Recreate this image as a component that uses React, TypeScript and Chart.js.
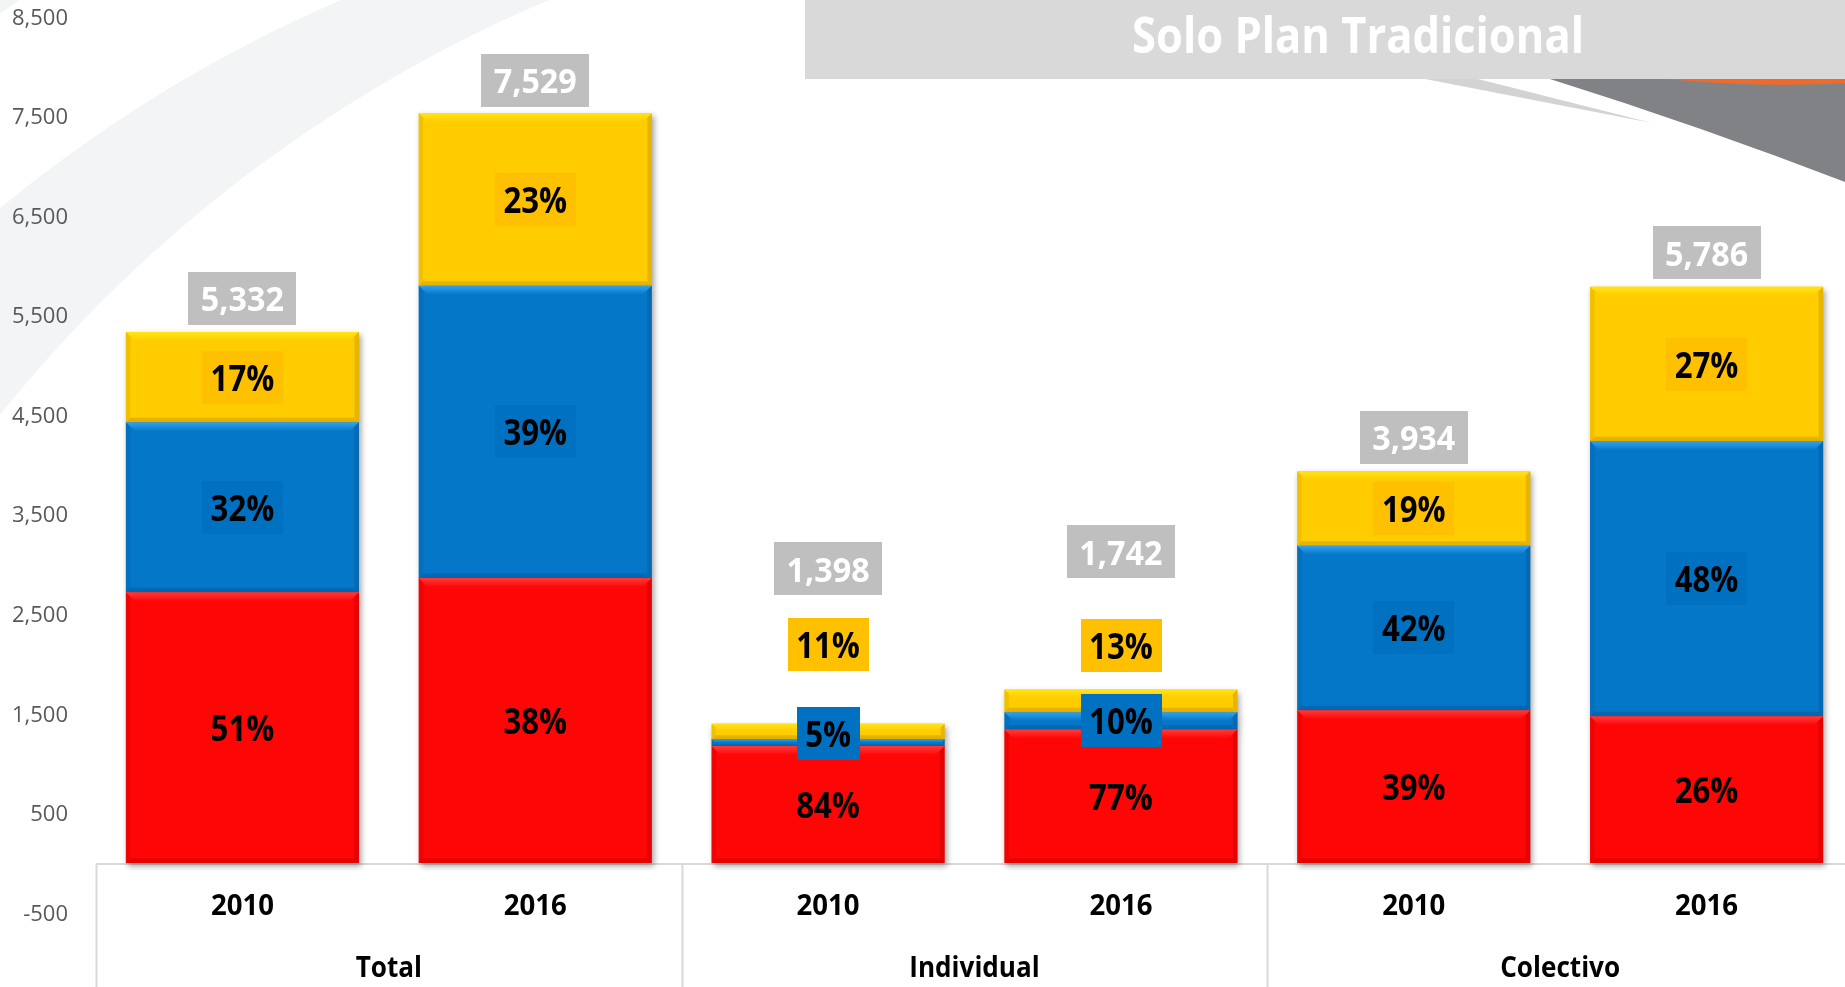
import React, { useEffect, useRef } from 'react';
import { Chart, registerables } from 'chart.js';
Chart.register(...registerables);

const years = ['2010', '2016', '2010', '2016', '2010', '2016'];
const groups = ['Total', 'Individual', 'Colectivo'];
const redValues = [2719, 2861, 1174, 1341, 1534, 1475];
const blueValues = [1706, 2936, 70, 174, 1652, 2760];
const yellowValues = [907, 1732, 154, 227, 748, 1551];
const totals = [5332, 7529, 1398, 1742, 3934, 5786];
const redPct = ['51%', '38%', '84%', '77%', '39%', '26%'];
const bluePct = ['32%', '39%', '5%', '10%', '42%', '48%'];
const yellowPct = ['17%', '23%', '11%', '13%', '19%', '27%'];
const yTicks = [-500, 500, 1500, 2500, 3500, 4500, 5500, 6500, 7500, 8500];
const title = 'Solo Plan Tradicional';

// layout-only settings (label lifts, in px)
const yellowLabelLift = [0, 0, 79, 44, 0, 0];
const blueLabelLift = [0, 0, 9, 0, 0, 0];
const totalLabelLift = [34, 33, 155, 138, 34, 34];

const FONT = "'Open Sans', sans-serif";
const CAP = 0.714;

const palette = [
  { base: '#fe0606', light: '#ff3a3a', dark: '#c00000', box: null as string | null },
  { base: '#0577c8', light: '#33a3ef', dark: '#03589a', box: '#0070c0' },
  { base: '#ffcc00', light: '#ffe414', dark: '#c99a00', box: '#ffc000' },
];

function textScaled(ctx: CanvasRenderingContext2D, text: string, x: number, baseline: number, sx: number, align: CanvasTextAlign) {
  ctx.save();
  ctx.translate(x, baseline);
  ctx.scale(sx, 1);
  ctx.textAlign = align;
  ctx.textBaseline = 'alphabetic';
  ctx.fillText(text, 0, 0);
  ctx.restore();
}

function drawBox(ctx: CanvasRenderingContext2D, text: string, cx: number, cy: number, bg: string | null, color: string, size: number, sx: number, padX: number, h: number) {
  ctx.font = `bold ${size}px ${FONT}`;
  const tw = ctx.measureText(text).width * sx;
  const w = tw + padX * 2;
  if (bg) {
    ctx.fillStyle = bg;
    ctx.fillRect(Math.round(cx - w / 2), Math.round(cy - h / 2), Math.round(w), h);
  }
  ctx.fillStyle = color;
  textScaled(ctx, text, cx, cy + 1 + (size * CAP) / 2, sx, 'center');
}

const decoPlugin = {
  id: 'deco',
  beforeDraw(chart: any) {
    const ctx: CanvasRenderingContext2D = chart.ctx;
    const W = chart.width;
    const H = chart.height;
    ctx.save();
    ctx.fillStyle = '#ffffff';
    ctx.fillRect(0, 0, W, H);
    // light swoosh on the left: inside outer circle, outside inner circle
    ctx.fillStyle = '#f3f4f6';
    ctx.save();
    ctx.beginPath();
    ctx.arc(900, 1300, 1415, 0, Math.PI * 2);
    ctx.clip();
    ctx.beginPath();
    ctx.rect(0, 0, W, H);
    ctx.arc(1100, 1300, 1412, 0, Math.PI * 2, true);
    ctx.fill('evenodd');
    ctx.restore();
    ctx.save();
    ctx.beginPath();
    ctx.rect(0, 0, 200, 200);
    ctx.clip();
    ctx.beginPath();
    ctx.rect(0, 0, 200, 200);
    ctx.arc(900, 1300, 1570, 0, Math.PI * 2, true);
    ctx.fill('evenodd');
    ctx.restore();
    // dark swoosh top right
    ctx.fillStyle = '#808285';
    ctx.beginPath();
    ctx.moveTo(1550, 79);
    ctx.quadraticCurveTo(1700, 126, W, 185);
    ctx.lineTo(W, 79);
    ctx.closePath();
    ctx.fill();
    // light gray sliver
    ctx.fillStyle = '#d3d3d5';
    ctx.beginPath();
    ctx.moveTo(1425, 79);
    ctx.lineTo(1478, 79);
    ctx.lineTo(1652, 123);
    ctx.closePath();
    ctx.fill();
    // orange strip
    ctx.fillStyle = '#f26a2a';
    ctx.beginPath();
    ctx.moveTo(1665, 79);
    ctx.quadraticCurveTo(1760, 88, W, 83);
    ctx.lineTo(W, 79);
    ctx.closePath();
    ctx.fill();
    ctx.restore();
  },
  beforeDatasetsDraw(chart: any) {
    const ctx: CanvasRenderingContext2D = chart.ctx;
    const xs = chart.scales.x;
    const ys = chart.scales.y;
    const y0 = ys.getPixelForValue(0);
    const n = years.length;
    const slot = (xs.right - xs.left) / n;
    ctx.save();
    // y tick labels
    ctx.fillStyle = '#595959';
    ctx.font = `22px ${FONT}`;
    yTicks.forEach((v) => {
      textScaled(ctx, v.toLocaleString('en-US'), 68, ys.getPixelForValue(v) + 8, 1, 'right');
    });
    // category table lines
    ctx.strokeStyle = '#d9d9d9';
    ctx.lineWidth = 2;
    ctx.beginPath();
    ctx.moveTo(xs.left, y0 + 1);
    ctx.lineTo(xs.right, y0 + 1);
    for (let g = 0; g <= groups.length; g++) {
      const x = Math.round(xs.left + g * 2 * slot) + 0.5;
      ctx.moveTo(x, y0 + 1);
      ctx.lineTo(x, chart.height);
    }
    ctx.stroke();
    // category labels
    ctx.fillStyle = '#000000';
    ctx.font = `bold 29px ${FONT}`;
    years.forEach((yr, i) => {
      textScaled(ctx, yr, xs.getPixelForValue(i), y0 + 52, 0.95, 'center');
    });
    groups.forEach((g, k) => {
      const x = (xs.getPixelForValue(2 * k) + xs.getPixelForValue(2 * k + 1)) / 2;
      textScaled(ctx, g, x, y0 + 114, 0.9, 'center');
    });
    ctx.restore();
    // shadow for bars
    ctx.save();
    ctx.shadowColor = 'rgba(0,0,0,0.38)';
    ctx.shadowBlur = 6;
    ctx.shadowOffsetX = 2;
    ctx.shadowOffsetY = 3;
  },
  afterDatasetsDraw(chart: any) {
    const ctx: CanvasRenderingContext2D = chart.ctx;
    ctx.restore();
    // bevel effect
    ctx.save();
    chart.data.datasets.forEach((ds: any, d: number) => {
      const meta = chart.getDatasetMeta(d);
      const p = palette[d];
      meta.data.forEach((el: any) => {
        const left = el.x - el.width / 2;
        const right = el.x + el.width / 2;
        const top = Math.min(el.y, el.base);
        const bot = Math.max(el.y, el.base);
        const h = bot - top;
        const b = Math.min(9, h / 2);
        const grad = ctx.createLinearGradient(0, top, 0, top + b);
        grad.addColorStop(0, p.light);
        grad.addColorStop(1, p.base);
        ctx.fillStyle = grad;
        ctx.beginPath();
        ctx.moveTo(left, top);
        ctx.lineTo(right, top);
        ctx.lineTo(right - b, top + b);
        ctx.lineTo(left + b, top + b);
        ctx.closePath();
        ctx.fill();
        ctx.globalAlpha = 0.45;
        ctx.fillStyle = p.dark;
        ctx.beginPath();
        ctx.moveTo(right, top);
        ctx.lineTo(right, bot);
        ctx.lineTo(right - b * 0.5, bot - b * 0.5);
        ctx.lineTo(right - b * 0.5, top + b * 0.5);
        ctx.closePath();
        ctx.fill();
        ctx.beginPath();
        ctx.moveTo(left, bot);
        ctx.lineTo(right, bot);
        ctx.lineTo(right - b * 0.5, bot - b * 0.5);
        ctx.lineTo(left + b * 0.5, bot - b * 0.5);
        ctx.closePath();
        ctx.fill();
        ctx.globalAlpha = 0.25;
        ctx.beginPath();
        ctx.moveTo(left, top);
        ctx.lineTo(left, bot);
        ctx.lineTo(left + b * 0.5, bot - b * 0.5);
        ctx.lineTo(left + b * 0.5, top + b * 0.5);
        ctx.closePath();
        ctx.fill();
        ctx.globalAlpha = 1;
      });
    });
    ctx.restore();

    // labels
    ctx.save();
    const pcts = [redPct, bluePct, yellowPct];
    const topMeta = chart.getDatasetMeta(2);
    chart.data.datasets.forEach((ds: any, d: number) => {
      const meta = chart.getDatasetMeta(d);
      meta.data.forEach((el: any, i: number) => {
        let cy = (el.y + el.base) / 2;
        if (d === 2 && yellowLabelLift[i] > 0) cy = el.y - yellowLabelLift[i];
        if (d === 1) cy -= blueLabelLift[i];
        drawBox(ctx, pcts[d][i], el.x, cy, palette[d].box, '#000000', 35, 0.89, 8.5, 53);
      });
    });
    topMeta.data.forEach((el: any, i: number) => {
      drawBox(ctx, totals[i].toLocaleString('en-US'), el.x, el.y - totalLabelLift[i], '#bfbfbf', '#ffffff', 34, 0.95, 12.5, 53);
    });
    ctx.restore();
  },
  afterDraw(chart: any) {
    const ctx: CanvasRenderingContext2D = chart.ctx;
    ctx.save();
    ctx.fillStyle = '#d9d9d9';
    ctx.fillRect(805, 0, chart.width - 805, 79);
    ctx.fillStyle = '#ffffff';
    ctx.font = `bold 50px ${FONT}`;
    textScaled(ctx, title, 1358, 53, 0.87, 'center');
    ctx.restore();
  },
};

export default function App() {
  const ref = useRef<HTMLCanvasElement>(null);
  useEffect(() => {
    const canvas = ref.current!;
    const chart = new Chart(canvas, {
      type: 'bar',
      data: {
        labels: years,
        datasets: [
          { label: 'A', data: redValues, backgroundColor: palette[0].base, stack: 's' },
          { label: 'B', data: blueValues, backgroundColor: palette[1].base, stack: 's' },
          { label: 'C', data: yellowValues, backgroundColor: palette[2].base, stack: 's' },
        ],
      },
      options: {
        responsive: false,
        devicePixelRatio: 1,
        animation: false,
        layout: { padding: 0 },
        datasets: { bar: { categoryPercentage: 1, barPercentage: 0.796 } },
        plugins: { legend: { display: false }, tooltip: { enabled: false }, title: { display: false } },
        scales: {
          x: { display: false, stacked: true },
          y: {
            stacked: true,
            min: -1245,
            max: 8666,
            grid: { display: false },
            border: { display: false },
            afterBuildTicks: (axis: any) => {
              axis.ticks = yTicks.map((v) => ({ value: v }));
            },
            afterFit: (axis: any) => {
              axis.width = 96;
              axis.paddingTop = 0;
              axis.paddingBottom = 0;
            },
            ticks: { display: false },
          },
        },
      },
      plugins: [decoPlugin],
    } as any);
    return () => chart.destroy();
  }, []);
  return (
    <div style={{ position: 'absolute', left: 0, top: 0, width: 1845, height: 987, overflow: 'hidden', background: '#fff' }}>
      <canvas ref={ref} width={1853} height={987} style={{ display: 'block', width: 1853, height: 987 }} />
    </div>
  );
}
